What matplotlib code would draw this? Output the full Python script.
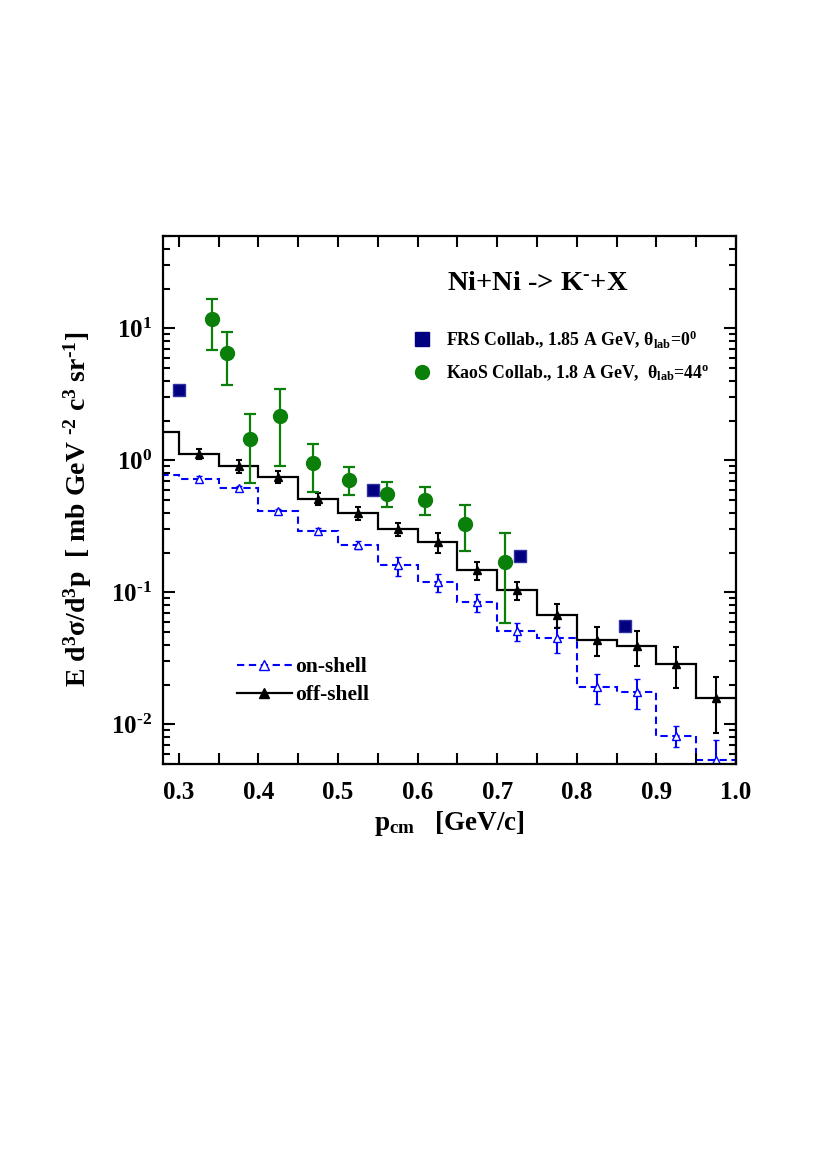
import matplotlib

matplotlib.use("Agg")

import matplotlib.pyplot as plt
from matplotlib.lines import Line2D
from matplotlib.ticker import MultipleLocator, LogLocator, NullFormatter, FuncFormatter
import numpy as np

plt.rcParams["font.family"] = ["Liberation Serif", "DejaVu Serif"]
plt.rcParams["font.weight"] = "bold"
plt.rcParams["mathtext.fontset"] = "custom"
plt.rcParams["mathtext.rm"] = "Liberation Serif:bold"
plt.rcParams["mathtext.it"] = "Liberation Serif:bold"
plt.rcParams["mathtext.bf"] = "Liberation Serif:bold"

# histogram bins (p_cm, GeV/c)
bin_edges = [0.25, 0.30, 0.35, 0.40, 0.45, 0.50, 0.55, 0.60, 0.65, 0.70,
             0.75, 0.80, 0.85, 0.90, 0.95, 1.00]
off_shell = [1.64, 1.12, 0.90, 0.75, 0.51, 0.40, 0.303, 0.24, 0.147, 0.1035,
             0.0678, 0.0438, 0.0392, 0.0288, 0.0158]
on_shell = [0.78, 0.726, 0.614, 0.411, 0.29, 0.227, 0.160, 0.119, 0.0845, 0.0509,
            0.0449, 0.0192, 0.0175, 0.0082, 0.00533]

# points at bin centres (from 0.325 upward)
point_x = [0.325, 0.375, 0.425, 0.475, 0.525, 0.575, 0.625, 0.675, 0.725,
           0.775, 0.825, 0.875, 0.925, 0.975]
off_err = [0.09, 0.10, 0.08, 0.055, 0.045, 0.034, 0.04, 0.023, 0.016,
           0.014, 0.011, 0.0115, 0.010, 0.0072]
on_err = [0.03, 0.03, 0.02, 0.015, 0.016, 0.026, 0.018, 0.013, 0.008,
          0.010, 0.0049, 0.0045, 0.0015, 0.0023]

# FRS data
frs_p = [0.300, 0.544, 0.728, 0.860]
frs_y = [3.39, 0.60, 0.187, 0.0552]
frs_err = [0.2, 0.04, 0.012, 0.003]

# KaoS data
kaos_p = [0.342, 0.360, 0.389, 0.427, 0.469, 0.514, 0.561, 0.609, 0.659, 0.710]
kaos_y = [11.7, 6.5, 1.46, 2.18, 0.96, 0.714, 0.56, 0.504, 0.331, 0.169]
kaos_err = [4.9, 2.8, 0.79, 1.28, 0.38, 0.17, 0.12, 0.12, 0.125, 0.11]

NAVY = "#000080"
GREEN = "#0a800a"
BLUE = "#0000ff"


def log_label(value, _):
    exp = int(round(np.log10(value)))
    return "10$^{\\text{%d}}$" % exp


fig = plt.figure(figsize=(8.17, 11.76), dpi=100)
ax = fig.add_axes([0.1995, 0.3503, 0.7014, 0.449])

on_y_pts = on_shell[1:]
off_y_pts = off_shell[1:]

ax.stairs(on_shell, bin_edges, color=BLUE, linestyle=(0, (3.5, 2.2)), linewidth=1.5)
ax.stairs(off_shell, bin_edges, color="black", linewidth=1.6)

ax.errorbar(point_x, on_y_pts, yerr=on_err, fmt="^", ms=6, mfc="white", mec=BLUE,
            mew=1.0, ecolor=BLUE, elinewidth=1.5, capsize=2.3, capthick=1.5)
ax.errorbar(point_x, off_y_pts, yerr=off_err, fmt="^", ms=5.5, color="black",
            elinewidth=1.5, capsize=2.3, capthick=1.5)

ax.errorbar(kaos_p, kaos_y, yerr=kaos_err, fmt="o", ms=10, color=GREEN,
            elinewidth=1.6, capsize=4.2, capthick=1.6)
ax.errorbar(frs_p, frs_y, yerr=frs_err, fmt="s", ms=9, mfc=NAVY, mec="#3030a0",
            ecolor="black", elinewidth=1.2, capsize=2.5, capthick=1.2)

ax.set_yscale("log")
ax.set_xlim(0.28, 1.0)
ax.set_ylim(0.005, 50)

ax.xaxis.set_major_locator(MultipleLocator(0.1))
ax.xaxis.set_minor_locator(MultipleLocator(0.05))
ax.xaxis.set_major_formatter(FuncFormatter(lambda v, _: f"{v:.1f}"))
ax.yaxis.set_major_locator(LogLocator(base=10, numticks=10))
ax.yaxis.set_major_formatter(FuncFormatter(log_label))
ax.yaxis.set_minor_locator(LogLocator(base=10, subs=np.arange(2, 10), numticks=20))
ax.yaxis.set_minor_formatter(NullFormatter())

ax.tick_params(which="both", direction="in", top=True, right=True, width=1.5)
ax.tick_params(axis="x", which="both", length=8, labelsize=18, pad=12)
ax.tick_params(axis="y", which="major", length=8.5, labelsize=18, pad=8)
ax.tick_params(axis="y", which="minor", length=5)
for sp in ax.spines.values():
    sp.set_linewidth(1.6)

ax.set_xlabel(r"p$_{\rm cm}$   [GeV/c]", fontsize=19.5, fontweight="bold")
ax.xaxis.set_label_coords(0.5, -0.086)
ax.set_ylabel("E d$^3$σ/d$^3$p  [ mb GeV $^{\\text{-2}}$ c$^3$ sr$^{\\text{-1}}$]",
              fontsize=20, fontweight="bold")
ax.yaxis.set_label_coords(-0.12, 0.482)

ax.text(0.496, 0.911, "Ni+Ni -> K$^{\\text{-}}$+X", transform=ax.transAxes,
        fontsize=20.5, fontweight="bold", ha="left", va="center")

h_frs = Line2D([], [], marker="s", ls="none", ms=9.5, mfc=NAVY, mec=NAVY)
h_kaos = Line2D([], [], marker="o", ls="none", ms=10, color=GREEN)
leg1 = ax.legend([h_frs, h_kaos],
                 ["FRS Collab., 1.85 A GeV, θ$_{\\rm lab}$=0$^{\\rm 0}$",
                  "KaoS Collab., 1.8 A GeV,  θ$_{\\rm lab}$=44$^{\\rm o}$"],
                 loc="upper left", bbox_to_anchor=(0.4365, 0.826), frameon=False,
                 prop={"size": 12.8, "weight": "bold"}, handlelength=1.05,
                 handletextpad=0.8, labelspacing=0.75, borderpad=0, borderaxespad=0)
ax.add_artist(leg1)

h_on = Line2D([], [], color=BLUE, ls=(0, (3.5, 2.2)), lw=1.5, marker="^", ms=6.5,
              mfc="white", mec=BLUE)
h_off = Line2D([], [], color="black", lw=1.6, marker="^", ms=6.5)
ax.legend([h_on, h_off], ["on-shell", "off-shell"], loc="upper left",
          bbox_to_anchor=(0.1286, 0.202), frameon=False,
          prop={"size": 15.5, "weight": "bold"}, handlelength=2.56,
          handletextpad=0.15, labelspacing=0.36, borderpad=0, borderaxespad=0)

fig.savefig("out.png", dpi=100, facecolor="white")
